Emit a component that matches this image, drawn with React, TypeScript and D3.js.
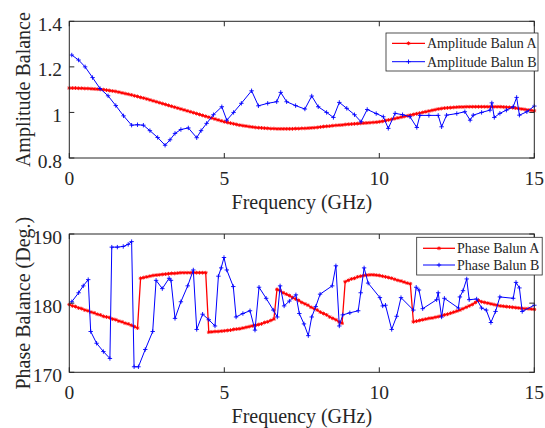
import React from "react";
import * as d3 from "d3";

// ---------- DATA ----------
const xTicks = [0, 5, 10, 15];
const ampTicks = [0.8, 1, 1.2, 1.4];
const phaseTicks = [170, 180, 190];

// Red series sampled every 0.1 GHz from 0 to 15 GHz
const ampA = [
  1.107, 1.107, 1.107, 1.106, 1.106, 1.105, 1.105, 1.104, 1.103, 1.102, 1.101,
  1.100, 1.098, 1.096, 1.094, 1.092, 1.089, 1.086, 1.083, 1.080, 1.077,
  1.073, 1.070, 1.066, 1.063, 1.059, 1.055, 1.051, 1.047, 1.043, 1.039,
  1.035, 1.031, 1.027, 1.023, 1.019, 1.015, 1.011, 1.007, 1.003, 0.999,
  0.995, 0.991, 0.987, 0.983, 0.979, 0.975, 0.971, 0.967, 0.963, 0.959,
  0.956, 0.953, 0.950, 0.947, 0.944, 0.942, 0.940, 0.938, 0.936, 0.934,
  0.933, 0.932, 0.931, 0.930, 0.929, 0.929, 0.928, 0.928, 0.928, 0.928,
  0.928, 0.928, 0.929, 0.929, 0.930, 0.930, 0.931, 0.932, 0.933, 0.934,
  0.936, 0.938, 0.939, 0.940, 0.942, 0.943, 0.944, 0.945, 0.947, 0.948,
  0.949, 0.950, 0.951, 0.952, 0.953, 0.954, 0.955, 0.956, 0.957, 0.959,
  0.961, 0.964, 0.967, 0.970, 0.973, 0.976, 0.979, 0.982, 0.985, 0.988,
  0.991, 0.994, 0.997, 1.000, 1.003, 1.006, 1.009, 1.012, 1.015, 1.017,
  1.019, 1.020, 1.021, 1.022, 1.023, 1.024, 1.024, 1.025, 1.025, 1.025,
  1.025, 1.025, 1.025, 1.025, 1.025, 1.025, 1.025, 1.025, 1.025, 1.024,
  1.023, 1.022, 1.021, 1.019, 1.017, 1.015, 1.013, 1.011, 1.009, 1.007,
];

const phaseA = [
  179.8, 179.6, 179.5, 179.3, 179.2, 179.0, 178.9, 178.7, 178.6, 178.4, 178.3,
  178.1, 178.0, 177.9, 177.7, 177.6, 177.4, 177.3, 177.1, 177.0, 176.8, 176.6, 176.4,
  183.6, 183.7, 183.8, 183.9, 184.0, 184.05, 184.1, 184.15, 184.2, 184.25, 184.3,
  184.3, 184.35, 184.4, 184.4, 184.4, 184.4, 184.4, 184.4, 184.4, 184.4, 184.4,
  175.8, 175.85, 175.9, 175.9, 175.95, 176.0, 176.05, 176.1, 176.2, 176.25, 176.3,
  176.4, 176.5, 176.6, 176.7, 176.8, 176.9, 177.0, 177.2, 177.3, 177.5, 177.7,
  182.0, 181.8, 181.5, 181.3, 181.1, 180.8, 180.6, 180.4, 180.1, 179.9, 179.7,
  179.4, 179.2, 179.0, 178.7, 178.5, 178.3, 178.0, 177.8, 177.6, 177.3, 177.1,
  183.1, 183.3, 183.5, 183.6, 183.8, 183.9, 184.0, 184.05, 184.1, 184.1, 184.05,
  184.0, 183.9, 183.8, 183.7, 183.6, 183.45, 183.3, 183.2, 183.05, 182.9, 182.8,
  177.3, 177.4, 177.5, 177.6, 177.7, 177.8, 177.85, 177.95, 178.05, 178.15, 178.3,
  178.4, 178.55, 178.7, 178.85, 179.0, 179.2, 179.4, 179.6, 179.8, 180.1, 180.4,
  180.2, 180.1, 180.0, 179.9, 179.8, 179.7, 179.6, 179.55, 179.5, 179.45, 179.4,
  179.35, 179.3, 179.25, 179.2, 179.2, 179.15, 179.1,
];

const redFreq = d3.range(ampA.length).map((i) => i / 10);

// Blue series: points
const ampBFreq = [
  0.08, 0.3, 0.51, 0.75, 0.99, 1.25, 1.5, 1.75, 2.01, 2.2, 2.39, 2.6, 2.85, 3.09, 3.25,
  3.41, 3.6, 3.84, 4.11, 4.25, 4.43, 4.65, 4.92, 5.08, 5.3, 5.55, 5.88, 6.1, 6.4, 6.69,
  6.82, 7.01, 7.3, 7.6, 7.82, 8.03, 8.3, 8.52, 8.71, 8.95, 9.2, 9.41, 9.61, 9.9, 10.13,
  10.29, 10.51, 10.75, 10.99, 11.21, 11.31, 11.6, 11.9, 12.01, 12.17, 12.5, 12.76, 12.93,
  13.03, 13.3, 13.57, 13.63, 13.71, 13.89, 14.1, 14.32, 14.43, 14.52, 14.76, 15.0,
];
const ampB = [
  1.252, 1.23, 1.2, 1.153, 1.105, 1.073, 1.03, 0.985, 0.944, 0.946, 0.944, 0.92, 0.89, 0.856, 0.88,
  0.908, 0.925, 0.932, 0.889, 0.92, 0.952, 0.99, 1.025, 0.966, 1.0, 1.04, 1.095, 1.029, 1.04, 1.047,
  1.088, 1.047, 1.03, 1.015, 1.072, 1.025, 1.0, 0.978, 1.044, 1.018, 0.99, 0.959, 1.013, 0.995, 0.981,
  0.93, 0.996, 0.99, 0.981, 0.934, 0.987, 0.987, 0.987, 0.937, 0.988, 0.995, 1.003, 0.966,
  0.988, 1.0, 1.01, 1.042, 0.978, 0.996, 1.01, 1.025, 1.066, 0.988, 1.003, 1.028,
];

const phaseBFreq = [
  0.08, 0.3, 0.45, 0.61, 0.69, 0.88, 1.1, 1.31, 1.37, 1.55, 1.74, 1.9, 2.01, 2.09, 2.23,
  2.45, 2.69, 2.8, 3.0, 3.22, 3.28, 3.41, 3.6, 3.82, 4.0, 4.11, 4.3, 4.5, 4.7, 4.81,
  4.9, 4.99, 5.08, 5.29, 5.38, 5.6, 5.83, 5.99, 6.12, 6.35, 6.58, 6.71, 6.8, 6.93, 7.1,
  7.31, 7.42, 7.57, 7.71, 7.82, 7.95, 8.09, 8.48, 8.6, 8.71, 8.82, 9.05, 9.32, 9.4, 9.51,
  9.64, 10.02, 10.11, 10.2, 10.4, 10.56, 10.7, 11.1, 11.19, 11.28, 11.4, 11.85, 11.9, 12.01,
  12.1, 12.55, 12.6, 12.7, 12.82, 12.9, 13.14, 13.3, 13.45, 13.6, 13.75, 13.89, 14.32,
  14.41, 14.52, 14.61, 15.0,
];
const phaseB = [
  180.2, 181.5, 182.5, 183.4, 175.9, 174.2, 173.0, 172.0, 188.1, 188.1, 188.2, 188.5, 188.9, 170.8, 170.8,
  173.3, 175.9, 183.3, 182.1, 183.6, 183.3, 177.8, 180.2, 182.5, 184.8, 176.2, 178.4, 177.6, 176.7, 183.9,
  185.1, 186.6, 184.8, 182.4, 178.0, 178.5, 178.9, 176.1, 182.3, 180.7, 179.0, 178.0, 182.5, 179.6, 180.3,
  181.2, 178.5, 177.0, 175.3, 178.0, 179.5, 181.3, 182.5, 185.4, 176.7, 178.3, 178.6, 178.9, 181.5, 185.1,
  182.9, 180.8, 179.6, 179.7, 176.2, 178.1, 180.8, 179.0, 182.3, 181.9, 179.2, 180.5, 181.5, 178.0,
  180.7, 179.3, 180.9, 181.8, 183.5, 180.5, 180.6, 179.3, 179.0, 177.2, 178.8, 180.9, 180.7,
  183.0, 182.2, 178.8, 179.7,
];

const ampLegend = ["Amplitude Balun A", "Amplitude Balun B"];
const phaseLegend = ["Phase Balun A", "Phase Balun B"];

// ---------- STYLE ----------
const FONT = "Liberation Serif, Times New Roman, serif";
const RED = "#ff0000";
const BLUE = "#0000ff";
const AXIS = "#262626";

const X0 = 69.3;
const X1 = 534.3;

function star(x: number, y: number, r: number) {
  const d = r * 0.72;
  return `M${x - r},${y}H${x + r}M${x},${y - r}V${y + r}M${x - d},${y - d}L${x + d},${y + d}M${x - d},${y + d}L${x + d},${y - d}`;
}
function plus(x: number, y: number, r: number) {
  return `M${x - r},${y}H${x + r}M${x},${y - r}V${y + r}`;
}

type Series = { xs: number[]; ys: number[]; color: string; marker: "star" | "plus"; width: number };

function Panel(props: {
  top: number;
  bottom: number;
  domain: [number, number];
  yTicks: number[];
  yFmt: (v: number) => string;
  yLabel: string;
  series: Series[];
  legend: string[];
  legendBox: [number, number, number, number];
  legendLine: [number, number];
  legendRows: [number, number];
}) {
  const { top, bottom, domain, yTicks, yFmt, yLabel, series, legend, legendBox, legendLine, legendRows } = props;
  const x = d3.scaleLinear().domain([0, 15]).range([X0, X1]);
  const y = d3.scaleLinear().domain(domain).range([bottom, top]);
  const tick = 5;
  const line = d3
    .line<[number, number]>()
    .x((d) => x(d[0]))
    .y((d) => y(d[1]));
  const [lx, ly, lw, lh] = legendBox;
  return (
    <g>
      {series.map((s, i) => {
        const pts: [number, number][] = s.xs.map((f, j) => [f, s.ys[j]]);
        const mk = pts
          .map((p) => (s.marker === "star" ? star(x(p[0]), y(p[1]), 1.9) : plus(x(p[0]), y(p[1]), 2.2)))
          .join("");
        return (
          <g key={i}>
            <path d={line(pts) || ""} fill="none" stroke={s.color} strokeWidth={s.width} />
            <path d={mk} fill="none" stroke={s.color} strokeWidth={0.9} />
          </g>
        );
      })}
      <rect x={X0} y={top} width={X1 - X0} height={bottom - top} fill="none" stroke={AXIS} strokeWidth={1} />
      {xTicks.map((t) => (
        <g key={"x" + t}>
          <line x1={x(t)} x2={x(t)} y1={bottom} y2={bottom - tick} stroke={AXIS} />
          <line x1={x(t)} x2={x(t)} y1={top} y2={top + tick} stroke={AXIS} />
          <text x={x(t)} y={bottom + 27} fontFamily={FONT} fontSize={19.5} textAnchor="middle" fill={AXIS}>
            {t}
          </text>
        </g>
      ))}
      {yTicks.map((t) => (
        <g key={"y" + t}>
          <line x1={X0} x2={X0 + tick} y1={y(t)} y2={y(t)} stroke={AXIS} />
          <line x1={X1} x2={X1 - tick} y1={y(t)} y2={y(t)} stroke={AXIS} />
          <text x={62} y={y(t) + 9.5} fontFamily={FONT} fontSize={19.5} textAnchor="end" fill={AXIS}>
            {yFmt(t)}
          </text>
        </g>
      ))}
      <text x={(X0 + X1) / 2} y={bottom + 50.5} fontFamily={FONT} fontSize={20} textAnchor="middle" fill={AXIS}>
        Frequency (GHz)
      </text>
      <text
        transform={`translate(29.5,${(top + bottom) / 2}) rotate(-90)`}
        fontFamily={FONT}
        fontSize={20}
        textAnchor="middle"
        fill={AXIS}
      >
        {yLabel}
      </text>
      <rect x={lx} y={ly} width={lw} height={lh} fill="#ffffff" stroke={AXIS} strokeWidth={0.8} />
      {legend.map((name, i) => {
        const s = series[i];
        const ry = legendRows[i];
        const mx = (legendLine[0] + legendLine[1]) / 2;
        return (
          <g key={name}>
            <line x1={legendLine[0]} x2={legendLine[1]} y1={ry} y2={ry} stroke={s.color} strokeWidth={s.width} />
            <path
              d={s.marker === "star" ? star(mx, ry, 1.9) : plus(mx, ry, 2.2)}
              fill="none"
              stroke={s.color}
              strokeWidth={0.9}
            />
            <text x={legendLine[1] + 2} y={ry + 5} fontFamily={FONT} fontSize={14} fill={AXIS}>
              {name}
            </text>
          </g>
        );
      })}
    </g>
  );
}

export default function App() {
  return (
    <svg width={545} height={428} style={{ position: "absolute", left: 0, top: 0, background: "#ffffff" }}>
      <rect x={0} y={0} width={545} height={428} fill="#ffffff" />
      <Panel
        top={21.3}
        bottom={158}
        domain={[0.8, 1.4]}
        yTicks={ampTicks}
        yFmt={(v) => (v === 1 ? "1" : v.toFixed(1))}
        yLabel="Amplitude Balance"
        series={[
          { xs: redFreq, ys: ampA, color: RED, marker: "star", width: 1.3 },
          { xs: ampBFreq, ys: ampB, color: BLUE, marker: "plus", width: 1 },
        ]}
        legend={ampLegend}
        legendBox={[386, 33, 152, 38]}
        legendLine={[392, 425]}
        legendRows={[43.3, 61.7]}
      />
      <Panel
        top={234}
        bottom={372.3}
        domain={[170, 190]}
        yTicks={phaseTicks}
        yFmt={(v) => String(v)}
        yLabel="Phase Balance (Deg.)"
        series={[
          { xs: redFreq, ys: phaseA, color: RED, marker: "star", width: 1.3 },
          { xs: phaseBFreq, ys: phaseB, color: BLUE, marker: "plus", width: 1 },
        ]}
        legend={phaseLegend}
        legendBox={[416.7, 237.3, 125.5, 37.7]}
        legendLine={[423, 455]}
        legendRows={[248.3, 265]}
      />
    </svg>
  );
}
